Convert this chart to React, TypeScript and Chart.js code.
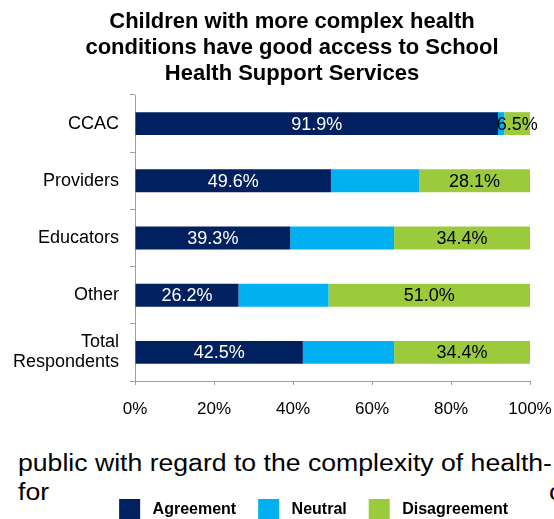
import React, { useEffect, useRef } from "react";
import { Chart, registerables } from "chart.js";

Chart.register(...registerables);

const categories: (string | string[])[] = ["CCAC", "Providers", "Educators", "Other", ["Total", "Respondents"]];
const agreement = [91.9, 49.6, 39.3, 26.2, 42.5];
const neutral = [1.6, 22.3, 26.3, 22.8, 23.1];
const disagreement = [6.5, 28.1, 34.4, 51.0, 34.4];
const seriesNames = ["Agreement", "Neutral", "Disagreement"];
const seriesColors = ["#002060", "#00B0F0", "#9BCB3C"];
const labelColors: (string | null)[] = ["#ffffff", null, "#000000"];
const xTicks = [0, 20, 40, 60, 80, 100];
const titleLines = [
  "Children with more complex health",
  "conditions have good access to School",
  "Health Support Services",
];
const backgroundLine1 = "public with regard to the complexity of health-";
const backgroundLine2 = "for";
const backgroundLine3 = "c";

const FONT = "'Liberation Sans', Arial, sans-serif";
const W = 554;
const H = 530;
const PAD_RIGHT = 24;
const AXIS = "#a0a0a0";

const segmentLabels = {
  id: "segmentLabels",
  afterDatasetsDraw(chart: any) {
    const ctx = chart.ctx;
    ctx.save();
    ctx.font = `18px ${FONT}`;
    ctx.textAlign = "center";
    ctx.textBaseline = "middle";
    chart.data.datasets.forEach((ds: any, di: number) => {
      const color = labelColors[di];
      if (!color) return;
      const meta = chart.getDatasetMeta(di);
      meta.data.forEach((el: any, i: number) => {
        const v = ds.data[i] as number;
        const p = el.getProps(["x", "y", "base"], true);
        ctx.fillStyle = color;
        ctx.fillText(v.toFixed(1) + "%", (p.x + p.base) / 2, p.y + 1);
      });
    });
    ctx.restore();
  },
};

// centre the title over the region the original slide used
const titleRegion = {
  id: "titleRegion",
  afterLayout(chart: any) {
    const t = chart.titleBlock;
    if (t) {
      t.left = 54;
      t.right = W - PAD_RIGHT;
    }
  },
};

export default function App() {
  const ref = useRef<HTMLCanvasElement | null>(null);

  useEffect(() => {
    if (!ref.current) return;
    const data = [agreement, neutral, disagreement];
    const chart = new Chart(ref.current, {
      type: "bar",
      data: {
        labels: categories as any,
        datasets: seriesNames.map((name, i) => ({
          label: name,
          data: data[i],
          backgroundColor: seriesColors[i],
          borderWidth: 0,
          barPercentage: 0.4,
          categoryPercentage: 1,
        })),
      },
      options: {
        indexAxis: "y",
        responsive: false,
        animation: false,
        devicePixelRatio: 1,
        layout: { padding: { left: 0, right: PAD_RIGHT, top: 0, bottom: 0 } },
        scales: {
          x: {
            stacked: true,
            min: 0,
            max: 100,
            afterBuildTicks: (s: any) => {
              s.ticks = xTicks.map((v) => ({ value: v }));
            },
            afterFit: (s: any) => {
              s.height = 96;
              s.paddingRight = 0;
              s.paddingLeft = 0;
            },
            ticks: {
              callback: (v: any) => v + "%",
              font: { size: 17, family: FONT },
              color: "#000",
              padding: 14,
              maxRotation: 0,
            },
            grid: { drawOnChartArea: false, drawTicks: true, tickLength: 4, color: AXIS },
            border: { color: AXIS },
          },
          y: {
            stacked: true,
            afterFit: (s: any) => {
              s.width = 135;
            },
            ticks: {
              font: { size: 18, family: FONT, lineHeight: 1.1 },
              color: "#000",
              padding: 11,
            },
            grid: { drawOnChartArea: false, drawTicks: true, tickLength: 5, color: AXIS, offset: true },
            border: { color: AXIS },
          },
        },
        plugins: {
          tooltip: { enabled: false },
          title: {
            display: true,
            text: titleLines,
            color: "#000",
            font: { size: 22, weight: "bold", family: FONT, lineHeight: 26 / 22 },
            padding: { top: 9, bottom: 8 },
          },
          legend: {
            position: "bottom",
            align: "end",
            labels: {
              boxWidth: 21,
              boxHeight: 21,
              padding: 22,
              color: "#000",
              font: { size: 16, weight: "bold", family: FONT },
              generateLabels: (c: any) =>
                Chart.defaults.plugins.legend.labels
                  .generateLabels(c)
                  .map((it: any) => ({ ...it, text: " " + it.text, lineWidth: 0 })),
            },
          },
        },
      } as any,
      plugins: [titleRegion, segmentLabels],
    });
    return () => chart.destroy();
  }, []);

  const bgText: React.CSSProperties = {
    position: "absolute",
    fontFamily: FONT,
    fontSize: 23,
    lineHeight: "23px",
    color: "#000",
    whiteSpace: "nowrap",
    transform: "scaleX(1.157)",
    transformOrigin: "left top",
    zIndex: 0,
  };

  return (
    <div style={{ position: "fixed", left: 0, top: 0, width: W, height: H, background: "#fff", overflow: "hidden" }}>
      <div style={{ ...bgText, left: 18, top: 451.5 }}>{backgroundLine1}</div>
      <div style={{ ...bgText, left: 18, top: 480.5 }}>{backgroundLine2}</div>
      <div style={{ ...bgText, left: 549, top: 480.5 }}>{backgroundLine3}</div>
      <canvas
        ref={ref}
        width={W}
        height={H}
        style={{ position: "absolute", left: 0, top: 0, width: W, height: H, zIndex: 1 }}
      />
    </div>
  );
}
